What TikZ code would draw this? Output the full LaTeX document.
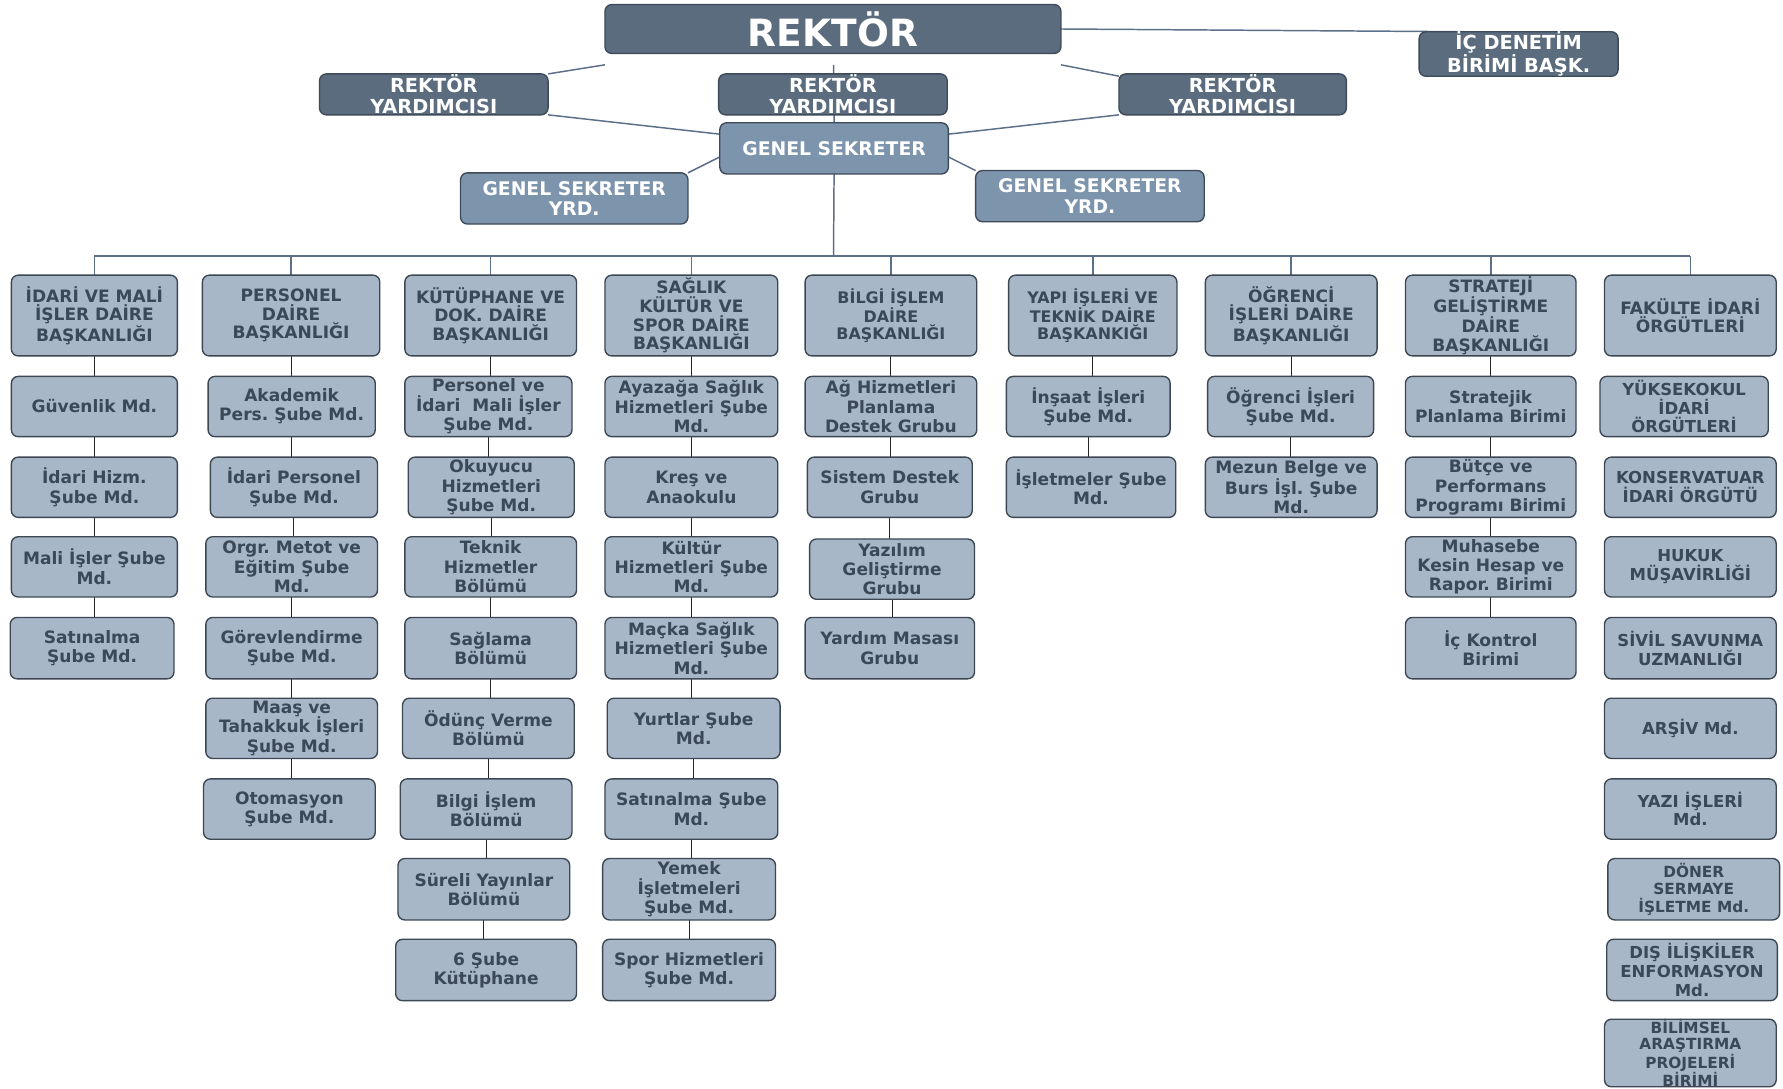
\documentclass[tikz,border=0pt]{standalone}
\usepackage{fontspec}
\setmainfont{DejaVu Sans}
\usetikzlibrary{calc}
\pgfdeclarelayer{bg}
\pgfsetlayers{bg,main}
\definecolor{topfill}{HTML}{5B6C7F}
\definecolor{topedge}{HTML}{3E4A57}
\definecolor{gsfill}{HTML}{7D94AD}
\definecolor{lightfill}{HTML}{A8B7C7}
\definecolor{lightedge}{HTML}{3C4753}
\definecolor{darktext}{HTML}{3A4858}
\definecolor{busline}{HTML}{5C7189}
\newcommand\orgbox[7]{\node[#1, minimum width={(#4-#3)*1pt}, minimum height={(#6-#5)*1pt}] (#2) at ({(#3+#4)/2},{(#5+#6)/2}) {#7};}
\tikzset{
  basebox/.style={rounded corners=6pt, line width=1.2pt, align=center, inner sep=0pt, outer sep=0pt},
  topbox/.style={basebox, draw=topedge, fill=topfill, text=white, font=\bfseries\fontsize{17}{18}\selectfont},
  gsbox/.style={basebox, draw=topedge, fill=gsfill, text=white, font=\bfseries\fontsize{16.5}{18}\selectfont},
  dept/.style={basebox, draw=lightedge, fill=lightfill, text=darktext, font=\bfseries\fontsize{15}{16.3}\selectfont},
  sub/.style={basebox, draw=lightedge, fill=lightfill, text=darktext, font=\bfseries\fontsize{15}{17}\selectfont},
  caps/.style={basebox, draw=lightedge, fill=lightfill, text=darktext, font=\bfseries\fontsize{14.5}{16.5}\selectfont},
  topline/.style={draw=busline, line width=1.3pt},
  colline/.style={draw=black!85, line width=0.9pt}
}
\begin{document}
\frenchspacing
\begin{tikzpicture}[x=1pt,y=-1pt]
\useasboundingbox (0,0) rectangle (1568,957);
\begin{pgfonlayer}{bg}
\fill[white] (0,0) rectangle (1568,957);
\end{pgfonlayer}
% top level
\orgbox{topbox, font=\bfseries\fontsize{33}{36}\selectfont}{rek}{532}{933}{4}{47}{REKTÖR}
\orgbox{topbox}{icd}{1248}{1423}{30}{65}{İÇ DENETİM\\BİRİMİ BAŞK.}
\orgbox{topbox}{ry1}{281}{482}{65}{101}{REKTÖR\\YARDIMCISI}
\orgbox{topbox}{ry2}{632}{833}{65}{101}{REKTÖR\\YARDIMCISI}
\orgbox{topbox}{ry3}{984}{1184}{65}{101}{REKTÖR\\YARDIMCISI}
\orgbox{gsbox}{gs}{633}{834}{108}{153}{GENEL SEKRETER}
\orgbox{gsbox}{gsy1}{405}{605}{152}{197}{GENEL SEKRETER\\YRD.}
\orgbox{gsbox}{gsy2}{858}{1059}{150}{195}{GENEL SEKRETER\\YRD.}
\coordinate (rekL) at (532,57);
\coordinate (rekM) at (733,57);
\coordinate (rekR) at (933,57);
\coordinate (bus) at (733,225);
% departments
\orgbox{dept}{d1}{10}{156}{242}{313}{İDARİ VE MALİ\\İŞLER DAİRE\\BAŞKANLIĞI}
\orgbox{dept}{d2}{178}{334}{242}{313}{PERSONEL\\DAİRE\\BAŞKANLIĞI}
\orgbox{dept}{d3}{356}{507}{242}{313}{KÜTÜPHANE VE\\DOK. DAİRE\\BAŞKANLIĞI}
\orgbox{dept}{d4}{532}{684}{242}{313}{SAĞLIK\\KÜLTÜR VE\\SPOR DAİRE\\BAŞKANLIĞI}
\orgbox{dept, font=\bfseries\fontsize{14}{15.5}\selectfont}{d5}{708}{859}{242}{313}{BİLGİ İŞLEM\\DAİRE\\BAŞKANLIĞI}
\orgbox{dept, font=\bfseries\fontsize{14}{15.5}\selectfont}{d6}{887}{1035}{242}{313}{YAPI İŞLERİ VE\\TEKNİK DAİRE\\BAŞKANKIĞI}
\orgbox{dept}{d7}{1060}{1211}{242}{313}{ÖĞRENCİ\\İŞLERİ DAİRE\\BAŞKANLIĞI}
\orgbox{dept}{d8}{1236}{1386}{242}{313}{STRATEJİ\\GELİŞTİRME\\DAİRE\\BAŞKANLIĞI}
\orgbox{dept}{d9}{1411}{1562}{242}{313}{FAKÜLTE İDARİ\\ÖRGÜTLERİ}
% column 1
\orgbox{sub}{s11}{10}{156}{331}{384}{Güvenlik Md.}
\orgbox{sub}{s12}{10}{156}{402}{455}{İdari Hizm.\\Şube Md.}
\orgbox{sub}{s13}{10}{156}{472}{525}{Mali İşler Şube\\Md.}
\orgbox{sub}{s14}{9}{153}{543}{597}{Satınalma\\Şube Md.}
% column 2
\orgbox{sub}{s21}{183}{330}{331}{384}{Akademik\\Pers. Şube Md.}
\orgbox{sub}{s22}{185}{332}{402}{455}{İdari Personel\\Şube Md.}
\orgbox{sub}{s23}{181}{332}{472}{525}{Orgr. Metot ve\\Eğitim Şube\\Md.}
\orgbox{sub}{s24}{181}{332}{543}{597}{Görevlendirme\\Şube Md.}
\orgbox{sub}{s25}{181}{332}{614}{667}{Maaş ve\\Tahakkuk İşleri\\Şube Md.}
\orgbox{sub}{s26}{179}{330}{685}{738}{Otomasyon\\Şube Md.}
% column 3
\orgbox{sub}{s31}{356}{503}{331}{384}{Personel ve\\İdari~ Mali İşler\\Şube Md.}
\orgbox{sub}{s32}{359}{505}{402}{455}{Okuyucu\\Hizmetleri\\Şube Md.}
\orgbox{sub}{s33}{356}{507}{472}{525}{Teknik\\Hizmetler\\Bölümü}
\orgbox{sub}{s34}{356}{507}{543}{597}{Sağlama\\Bölümü}
\orgbox{sub}{s35}{354}{505}{614}{667}{Ödünç Verme\\Bölümü}
\orgbox{sub}{s36}{352}{503}{685}{738}{Bilgi İşlem\\Bölümü}
\orgbox{sub}{s37}{350}{501}{755}{809}{Süreli Yayınlar\\Bölümü}
\orgbox{sub}{s38}{348}{507}{826}{880}{6 Şube\\Kütüphane}
% column 4
\orgbox{sub}{s41}{532}{684}{331}{384}{Ayazağa Sağlık\\Hizmetleri Şube\\Md.}
\orgbox{sub}{s42}{532}{684}{402}{455}{Kreş ve\\Anaokulu}
\orgbox{sub}{s43}{532}{684}{472}{525}{Kültür\\Hizmetleri Şube\\Md.}
\orgbox{sub}{s44}{532}{684}{543}{597}{Maçka Sağlık\\Hizmetleri Şube\\Md.}
\orgbox{sub}{s45}{534}{686}{614}{667}{Yurtlar Şube\\Md.}
\orgbox{sub}{s46}{532}{684}{685}{738}{Satınalma Şube\\Md.}
\orgbox{sub}{s47}{530}{682}{755}{809}{Yemek\\İşletmeleri\\Şube Md.}
\orgbox{sub}{s48}{530}{682}{826}{880}{Spor Hizmetleri\\Şube Md.}
% column 5
\orgbox{sub}{s51}{708}{859}{331}{384}{Ağ Hizmetleri\\Planlama\\Destek Grubu}
\orgbox{sub}{s52}{710}{855}{402}{455}{Sistem Destek\\Grubu}
\orgbox{sub}{s53}{712}{857}{474}{527}{Yazılım\\Geliştirme\\Grubu}
\orgbox{sub}{s54}{708}{857}{543}{597}{Yardım Masası\\Grubu}
% column 6
\orgbox{sub}{s61}{885}{1029}{331}{384}{İnşaat İşleri\\Şube Md.}
\orgbox{sub}{s62}{885}{1034}{402}{455}{İşletmeler Şube\\Md.}
% column 7
\orgbox{sub}{s71}{1062}{1208}{331}{384}{Öğrenci İşleri\\Şube Md.}
\orgbox{sub}{s72}{1060}{1211}{402}{455}{Mezun Belge ve\\Burs İşl. Şube\\Md.}
% column 8
\orgbox{sub}{s81}{1236}{1386}{331}{384}{Stratejik\\Planlama Birimi}
\orgbox{sub}{s82}{1236}{1386}{402}{455}{Bütçe ve\\Performans\\Programı Birimi}
\orgbox{sub}{s83}{1236}{1386}{472}{525}{Muhasebe\\Kesin Hesap ve\\Rapor. Birimi}
\orgbox{sub}{s84}{1236}{1386}{543}{597}{İç Kontrol\\Birimi}
% column 9
\orgbox{caps}{s91}{1407}{1555}{331}{384}{YÜKSEKOKUL\\İDARİ\\ÖRGÜTLERİ}
\orgbox{caps}{s92}{1411}{1562}{402}{455}{KONSERVATUAR\\İDARİ ÖRGÜTÜ}
\orgbox{caps}{s93}{1411}{1562}{472}{525}{HUKUK\\MÜŞAVİRLİĞİ}
\orgbox{caps}{s94}{1411}{1562}{543}{597}{SİVİL SAVUNMA\\UZMANLIĞI}
\orgbox{caps}{s95}{1411}{1562}{614}{667}{ARŞİV Md.}
\orgbox{caps}{s96}{1411}{1562}{685}{738}{YAZI İŞLERİ\\Md.}
\orgbox{caps, font=\bfseries\fontsize{13.5}{15.5}\selectfont}{s97}{1414}{1565}{755}{809}{DÖNER\\SERMAYE\\İŞLETME Md.}
\orgbox{caps}{s98}{1413}{1563}{826}{880}{DIŞ İLİŞKİLER\\ENFORMASYON\\Md.}
\orgbox{caps, font=\bfseries\fontsize{13.5}{14.5}\selectfont}{s99}{1411}{1562}{897}{955}{BİLİMSEL\\ARAŞTIRMA\\PROJELERİ\\BİRİMİ}
% connectors
\begin{pgfonlayer}{bg}
\draw[topline] (rek.east) -- ([xshift=38pt]icd.north west);
\draw[topline] (ry1.north east) -- (rekL);
\draw[topline] (rekR) -- ([yshift=-2pt]ry3.north west);
\draw[topline] (rekM) -- (gs.north);
\draw[topline] (ry1.south east) -- ([yshift=-10pt]gs.north west);
\draw[topline] (ry3.south west) -- ([yshift=-10pt]gs.north east);
\draw[topline] ([yshift=15pt]gs.south west) -- (gsy1.north east);
\draw[topline] ([yshift=15pt]gs.south east) -- (gsy2.north west);
\draw[topline] (gs.south) -- (bus);
\draw[topline] (d1.north |- bus) -- (d9.north |- bus);
\foreach \d in {d1,d2,d3,d4,d5,d6,d7,d8,d9}
  \draw[topline] (\d.north) -- (\d.north |- bus);
\foreach \a/\b in {d1/s11,s11/s12,s12/s13,s13/s14,
                   d2/s21,s21/s22,s22/s23,s23/s24,s24/s25,s25/s26,
                   d3/s31,s31/s32,s32/s33,s33/s34,s34/s35,s35/s36,s36/s37,s37/s38,
                   d4/s41,s41/s42,s42/s43,s43/s44,s44/s45,s45/s46,s46/s47,s47/s48,
                   d5/s51,s51/s52,s52/s53,s53/s54,
                   d6/s61,s61/s62,
                   d7/s71,s71/s72,
                   d8/s81,s81/s82,s82/s83,s83/s84}
  \draw[colline] (\a.south) -- (\a.south |- \b.north);
\end{pgfonlayer}
\end{tikzpicture}
\end{document}
